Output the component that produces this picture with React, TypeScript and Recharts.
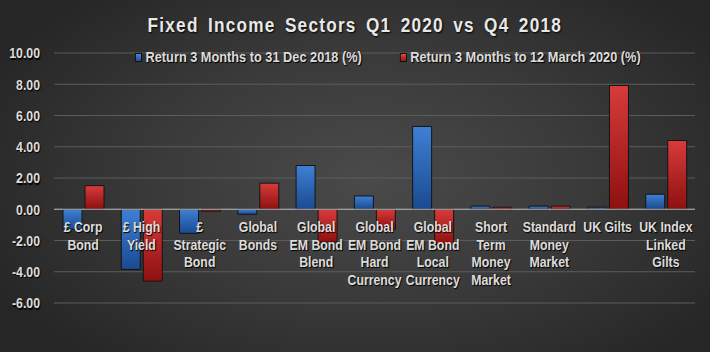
import React from "react";
import { BarChart, Bar, XAxis, YAxis, CartesianGrid, ReferenceLine, ReferenceDot } from "recharts";

const categories = [
  "£ Corp\nBond",
  "£ High\nYield",
  "£\nStrategic\nBond",
  "Global\nBonds",
  "Global\nEM Bond\nBlend",
  "Global\nEM Bond\nHard\nCurrency",
  "Global\nEM Bond\nLocal\nCurrency",
  "Short\nTerm\nMoney\nMarket",
  "Standard\nMoney\nMarket",
  "UK Gilts",
  "UK Index\nLinked\nGilts",
];
const returnDec2018 = [-1.28, -3.85, -1.54, -0.32, 2.8, 0.85, 5.3, 0.2, 0.2, 0.13, 0.96];
const returnMar2020 = [1.51, -4.6, -0.12, 1.67, -2.1, -1.28, -2.25, 0.13, 0.2, 7.92, 4.4];
const yTicks = [-6, -4, -2, 0, 2, 4, 6, 8, 10];
const seriesNames = ["Return 3 Months to 31 Dec 2018 (%)", "Return 3 Months to 12 March 2020 (%)"];
const title = "Fixed Income Sectors Q1 2020 vs Q4 2018";

const data = categories.map((c, i) => ({
  name: c,
  dec: returnDec2018[i],
  mar: returnMar2020[i],
}));

const FONT = "'Liberation Sans', Arial, sans-serif";
const NARROW = 0.82;
const TEXT = "#dcdcdc";

const CategoryLabel = (props: any) => {
  const { viewBox, text } = props;
  const cx = viewBox.x + viewBox.width / 2;
  const cy = viewBox.y + viewBox.height / 2;
  const lines = String(text).split("\n");
  return (
    <g transform={`translate(${cx},${cy}) scale(${NARROW},1)`}>
      <text
        x={0}
        y={23}
        textAnchor="middle"
        fill={TEXT}
        fontFamily={FONT}
        fontWeight="bold"
        fontSize={15}
        style={{ textShadow: "1px 1px 1px #000" }}
      >
        {lines.map((l, k) => (
          <tspan key={k} x={0} dy={k === 0 ? 0 : 17.5}>
            {l}
          </tspan>
        ))}
      </text>
    </g>
  );
};

const YTick = (props: any) => {
  const { x, y, payload } = props;
  return (
    <g transform={`translate(${x},${y}) scale(${NARROW},1)`}>
      <text x={0} y={0} dy="0.36em" textAnchor="end" fill={TEXT} fontFamily={FONT} fontWeight="bold" fontSize={15}
        style={{ textShadow: "1px 1px 1px #000" }}>
        {Number(payload.value).toFixed(2)}
      </text>
    </g>
  );
};

const Swatch = ({ bg }: { bg: string }) => (
  <span style={{ display: "inline-block", width: 8, height: 9, background: bg, border: "1px solid #111", marginRight: 4, boxSizing: "border-box" }} />
);

export default function App() {
  return (
    <div
      style={{
        position: "absolute",
        left: 0,
        top: 0,
        width: 710,
        height: 352,
        background: "radial-gradient(ellipse 60% 70% at 52% 50%, #4a4a4a 0%, #3a3a3a 50%, #262626 100%)",
        overflow: "hidden",
      }}
    >
      <div style={{ position: "absolute", top: 11, left: 0, width: 710, textAlign: "center", lineHeight: "28px" }}>
        <span
          style={{
            display: "inline-block",
            transform: `scaleX(${NARROW})`,
            transformOrigin: "center",
            fontFamily: FONT,
            fontWeight: "bold",
            fontSize: 21,
            letterSpacing: 1.5,
            wordSpacing: 4,
            color: "#e8e8e8",
            textShadow: "1px 1px 2px #000",
            whiteSpace: "nowrap",
          }}
        >
          {title}
        </span>
      </div>
      <div
        style={{
          position: "absolute",
          top: 49,
          left: 135,
          zIndex: 2,
          transform: "scaleX(0.88)",
          transformOrigin: "left center",
          display: "flex",
          alignItems: "center",
          fontFamily: FONT,
          fontWeight: "bold",
          fontSize: 14.5,
          lineHeight: "17px",
          color: TEXT,
          whiteSpace: "nowrap",
          textShadow: "1px 1px 1px #000",
        }}
      >
        <Swatch bg="linear-gradient(#4a88d8,#1c4f99)" />
        <span style={{ marginRight: 43 }}>{seriesNames[0]}</span>
        <Swatch bg="linear-gradient(#e04545,#981414)" />
        <span>{seriesNames[1]}</span>
      </div>
      <BarChart
        width={710}
        height={352}
        data={data}
        margin={{ top: 53, right: 15, bottom: 49, left: 0 }}
        barGap={3}
      >
        <defs>
          <linearGradient id="blueGrad" x1="0" y1="0" x2="0" y2="1">
            <stop offset="0%" stopColor="#3f80d4" />
            <stop offset="100%" stopColor="#1a4a91" />
          </linearGradient>
          <linearGradient id="redGrad" x1="0" y1="0" x2="0" y2="1">
            <stop offset="0%" stopColor="#d83b3b" />
            <stop offset="100%" stopColor="#8e1010" />
          </linearGradient>
        </defs>
        <CartesianGrid vertical={false} stroke="#5c5c5c" strokeWidth={1} />
        <XAxis dataKey="name" hide />
        <YAxis
          width={54}
          domain={[-6, 10]}
          ticks={yTicks}
          interval={0}
          axisLine={false}
          tickLine={false}
          tickSize={6}
          tickMargin={8}
          tick={<YTick />}
        />
        <ReferenceLine y={0} stroke="#b4b4b4" strokeWidth={1} />
        <Bar dataKey="dec" name={seriesNames[0]} fill="url(#blueGrad)" stroke="#141414" strokeWidth={1} barSize={19} isAnimationActive={false} />
        <Bar dataKey="mar" name={seriesNames[1]} fill="url(#redGrad)" stroke="#141414" strokeWidth={1} barSize={19} isAnimationActive={false} />
        {categories.map((c) => (
          <ReferenceDot
            key={c}
            x={c}
            y={0}
            r={1}
            fill="none"
            stroke="none"
            ifOverflow="visible"
            label={<CategoryLabel text={c} />}
          />
        ))}
      </BarChart>
    </div>
  );
}
